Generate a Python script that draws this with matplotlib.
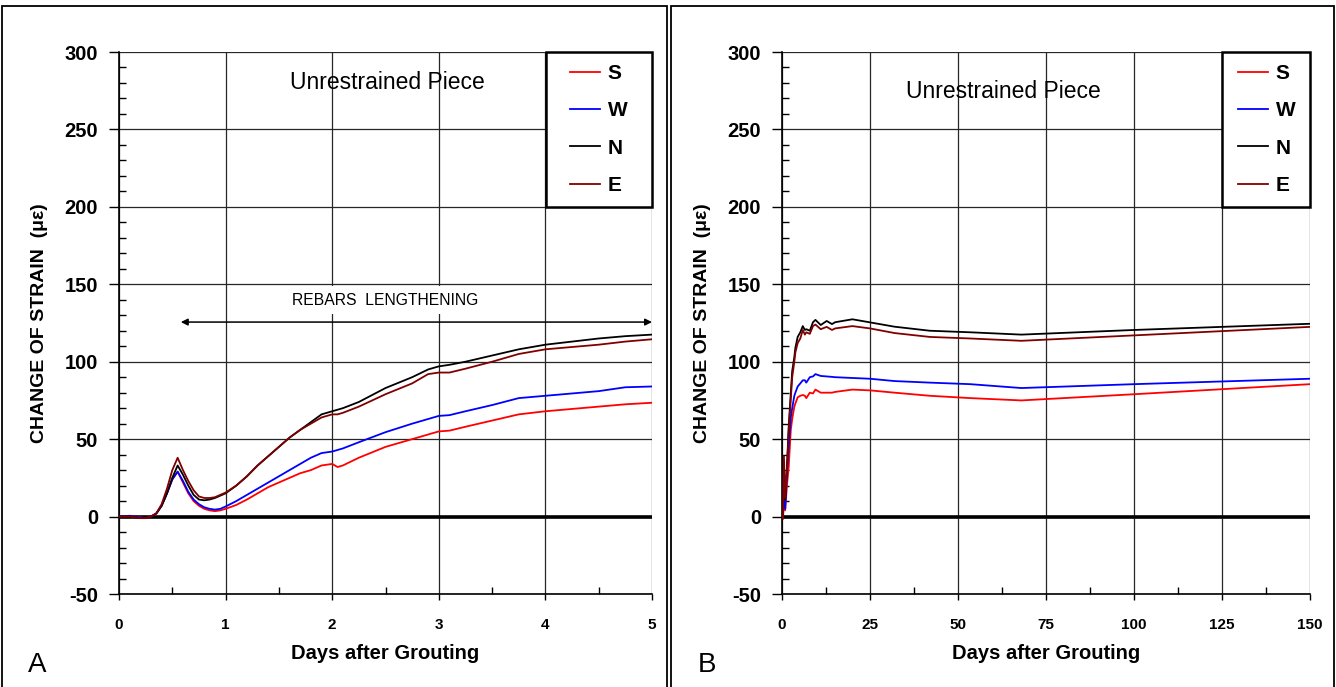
import matplotlib
matplotlib.use("Agg")
import matplotlib.pyplot as plt
from matplotlib.patches import Rectangle
from matplotlib.ticker import MultipleLocator

plt.rcParams['font.family'] = ['Liberation Sans', 'DejaVu Sans']
plt.rcParams['axes.unicode_minus'] = False

# ---------------- data: panel A (0-5 days) ----------------
days_a = [0, 0.1, 0.2, 0.25, 0.3, 0.35, 0.4, 0.45, 0.5, 0.55, 0.6, 0.65, 0.7, 0.75,
          0.8, 0.85, 0.9, 0.95, 1.0, 1.1, 1.2, 1.3, 1.4, 1.5, 1.6, 1.7, 1.8, 1.9,
          2.0, 2.05, 2.1, 2.25, 2.5, 2.75, 2.9, 3.0, 3.1, 3.25, 3.5, 3.75, 4.0,
          4.25, 4.5, 4.75, 5.0]
s_a = [0, 0.5, -0.5, -1, 0, 2, 7, 15, 24, 29, 22, 15, 10, 7, 5, 4, 3.5, 4, 5, 7.5,
       11, 15, 19, 22, 25, 28, 30, 33, 34, 32, 33, 38, 45, 50, 53, 55, 55.5, 58,
       62, 66, 68, 69.5, 71, 72.5, 73.5]
w_a = [0, 0.5, -0.5, -1, 0, 2, 7, 15, 24, 29, 23, 16, 11, 8, 6, 5, 4.5, 5, 6.5, 10,
       14, 18, 22, 26, 30, 34, 38, 41, 42, 43, 44, 48, 54.5, 60, 63, 65, 65.5, 68,
       72, 76.5, 78, 79.5, 81, 83.5, 84]
n_a = [0, 0, -1, -1, 0, 2, 7, 15, 25, 33, 27, 20, 14, 11, 10.5, 11, 12, 13.5, 15, 20,
       26, 33, 39, 45, 51, 56, 61, 66, 68, 69, 70, 74, 83, 90, 95, 97, 98, 100,
       104, 108, 111, 113, 115, 116.5, 117.5]
e_a = [0, 0, -1, -1, 0, 2, 8, 18, 30, 38, 30, 23, 17, 13, 12, 12, 12.5, 14, 15.5, 20,
       26, 33, 39, 45, 51, 56, 60, 64, 66, 66, 67, 71, 79, 86, 92, 93, 93, 95.5,
       100, 105, 108, 109.5, 111, 113, 114.5]

# ---------------- data: panel B (0-150 days) ----------------
days_b = [0, 0.3, 0.55, 0.9, 1.4, 1.9, 2.5, 2.9, 3.5, 3.8, 4.45, 5.2, 5.9, 6.5, 6.9,
          7.9, 8.8, 9.5, 11, 12.7, 14.2, 15.1, 20, 25, 32, 42, 53.5, 68, 100, 150]
s_b = [0, -1, 29, 4, 20, 32, 56, 63, 71, 73, 77, 78, 78.5, 78, 76.5, 80, 79.5, 82,
       80, 80, 80, 80.5, 82, 81.5, 80, 78, 76.5, 75, 79, 85.5]
w_b = [0, -1, 29, 5, 28, 45, 64, 70, 78, 80, 84, 86, 88, 88, 86.5, 90, 90.5, 92,
       90.8, 90.5, 90.2, 90, 89.5, 89, 87.5, 86.5, 85.5, 83, 85.5, 89]
n_b = [0, -1, 33, 11, 32, 58, 80, 94, 103, 109, 116, 119, 123, 120.5, 121, 120,
       125.5, 127, 123.7, 126.3, 124.3, 125.5, 127.4, 125.4, 122.6, 120, 119,
       117.5, 120.5, 124.5]
e_b = [0, -1.5, 39, 12, 30, 55, 76, 90, 100, 106, 112, 115, 120.5, 117.5, 119, 118,
       123, 124, 121, 122.5, 120.5, 121.5, 123, 121.5, 118.5, 116, 115, 113.5,
       117, 122.5]

labels = ['S', 'W', 'N', 'E']
colors = ['#ff0000', '#0000ff', '#000000', '#800000']

fig = plt.figure(figsize=(13.36, 6.87), dpi=100)

# panel frames
for x0, x1 in [(2, 667), (671, 1334)]:
    fig.add_artist(Rectangle((x0 / 1336, -0.01), (x1 - x0) / 1336, 1 - 6 / 687 + 0.01,
                             transform=fig.transFigure, fill=False,
                             edgecolor='black', lw=1.3))

H = 687.0
W = 1336.0
ax_a = fig.add_axes([119 / W, (H - 594) / H, 533 / W, 542 / H])
ax_b = fig.add_axes([782 / W, (H - 594) / H, 528 / W, 542 / H])


def style(ax, xmax, xmajor, xminor, leg_x):
    ax.set_ylim(-50, 300)
    ax.set_xlim(0, xmax)
    ax.yaxis.set_major_locator(MultipleLocator(50))
    ax.yaxis.set_minor_locator(MultipleLocator(10))
    ax.xaxis.set_major_locator(MultipleLocator(xmajor))
    ax.xaxis.set_minor_locator(MultipleLocator(xminor))
    ax.grid(True, which='major', color='0.15', lw=0.9)
    ax.set_axisbelow(True)
    ax.tick_params(axis='y', which='major', direction='out', length=7, width=1,
                   labelsize=14.5, pad=8)
    ax.tick_params(axis='x', which='major', direction='out', length=4, width=1,
                   labelsize=11, pad=13)
    ax.tick_params(which='minor', direction='in', length=5, width=1)
    for lab in ax.get_xticklabels() + ax.get_yticklabels():
        lab.set_fontweight('bold')
    for sp in ax.spines.values():
        sp.set_linewidth(1.2)
    ax.spines['top'].set_visible(False)
    ax.spines['right'].set_visible(False)
    ax.axhline(0, color='black', lw=2.6, zorder=3)
    ax.set_xlabel('Days after Grouting', fontsize=14.5, fontweight='bold', labelpad=9)
    ax.set_ylabel('CHANGE OF STRAIN  (\u03bc\u03b5)', fontsize=14,
                  fontweight='bold', labelpad=12)
    # legend frame
    ax.add_patch(Rectangle((leg_x, 0.714), 1 - leg_x, 0.286, transform=ax.transAxes,
                           facecolor='white', edgecolor='black', lw=1.8, zorder=5,
                           clip_on=False))


style(ax_a, 5, 1, 0.5, 0.801)
style(ax_b, 150, 25, 12.5, 0.833)

for vals, lab, col in zip([s_a, w_a, n_a, e_a], labels, colors):
    ax_a.plot(days_a, vals, color=col, lw=1.3, label=lab, zorder=4)
for vals, lab, col in zip([s_b, w_b, n_b, e_b], labels, colors):
    ax_b.plot(days_b, vals, color=col, lw=1.3, label=lab, zorder=4)

for ax, cx in [(ax_a, 0.9), (ax_b, 0.918)]:
    leg = ax.legend(loc='center', bbox_to_anchor=(cx, 0.857), frameon=False,
                    handlelength=1.45, handletextpad=0.35, labelspacing=0.88,
                    prop={'size': 15, 'weight': 'bold'})
    leg.set_zorder(6)

ax_a.text(2.52, 280, 'Unrestrained Piece', fontsize=16.5, ha='center', va='center')
ax_b.text(62.8, 274.7, 'Unrestrained Piece', fontsize=16.5, ha='center', va='center')

ax_a.text(2.5, 139.8, 'REBARS  LENGTHENING', fontsize=11.3, ha='center', va='center',
          bbox=dict(facecolor='white', edgecolor='none', pad=5), zorder=3)
ax_a.annotate('', xy=(0.58, 125.6), xytext=(5.0, 125.6),
              arrowprops=dict(arrowstyle='<|-|>', color='black', lw=1.1,
                              mutation_scale=10, shrinkA=0, shrinkB=0), zorder=3)

fig.text(37 / W, 1 - 665 / H, 'A', fontsize=20, ha='center', va='center')
fig.text(707 / W, 1 - 665 / H, 'B', fontsize=20, ha='center', va='center')

fig.savefig('out.png', dpi=100)
